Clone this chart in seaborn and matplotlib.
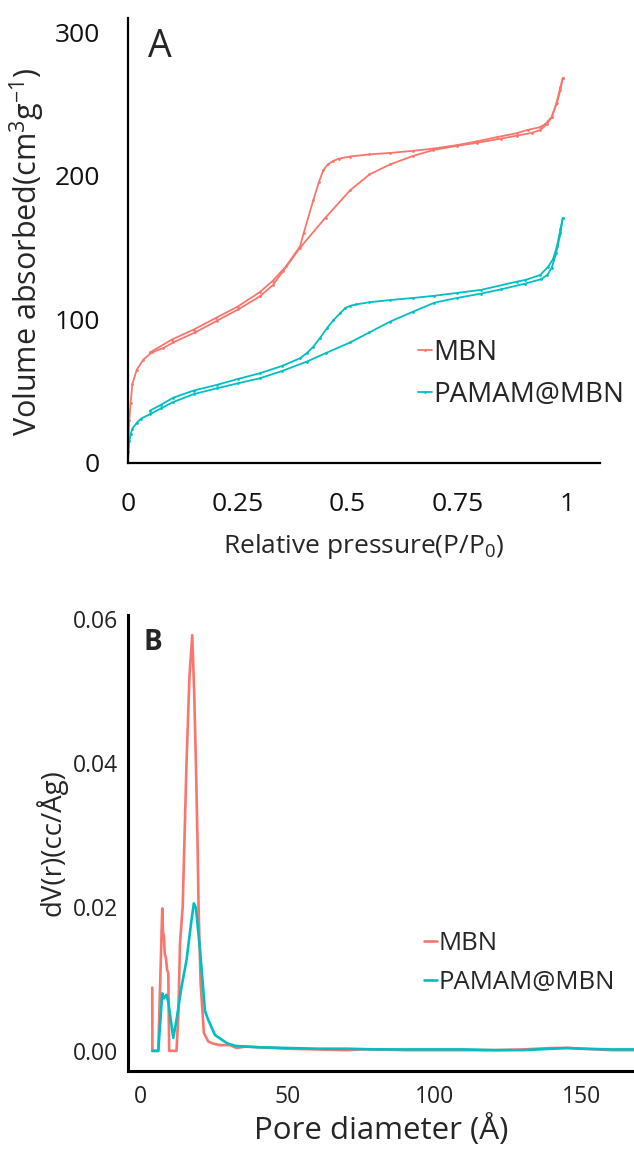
import pandas as pd
import matplotlib
matplotlib.use('Agg')
import matplotlib.pyplot as plt
import seaborn as sns

# colours (ggplot default pair)
red = '#F8766D'
cyan = '#00BFC4'

# A: N2 isotherms, adsorption / desorption branches
mbn_ads_p = [0.0, 0.001, 0.003, 0.006, 0.01, 0.02, 0.035, 0.054, 0.08, 0.103, 0.153, 0.202, 0.251,
             0.30, 0.33, 0.354, 0.392, 0.45, 0.506, 0.55, 0.597, 0.65, 0.695, 0.75, 0.794, 0.85,
             0.885, 0.92, 0.939, 0.954, 0.965, 0.977, 0.985, 0.99]
mbn_ads_v = [0, 15, 30, 42, 55, 65, 72, 77, 80, 84, 91, 99, 107,
             116, 124, 134, 150, 171, 190, 201, 208, 214, 218, 221, 223, 226,
             228, 230, 232, 236, 241, 251, 260, 268]
mbn_des_p = [0.99, 0.985, 0.975, 0.965, 0.95, 0.939, 0.91, 0.885, 0.84, 0.794, 0.75, 0.695, 0.65,
             0.597, 0.55, 0.506, 0.48, 0.468, 0.455, 0.445, 0.435, 0.422, 0.40, 0.392, 0.36, 0.33,
             0.30, 0.25, 0.20, 0.15, 0.10, 0.05]
mbn_des_v = [268, 262, 250, 241, 236, 234, 232, 229.7, 227, 224, 221.5, 219, 217.5,
             216, 215, 213.5, 212, 210.5, 208, 204, 196, 183, 160, 151, 137, 127,
             119, 109, 101, 93, 86, 77]
pam_ads_p = [0.0, 0.001, 0.003, 0.006, 0.01, 0.02, 0.03, 0.05, 0.075, 0.103, 0.15, 0.202, 0.25,
             0.30, 0.35, 0.407, 0.45, 0.506, 0.55, 0.597, 0.65, 0.698, 0.75, 0.804, 0.85, 0.905,
             0.94, 0.955, 0.965, 0.975, 0.985, 0.99]
pam_ads_v = [0, 8, 15, 20, 24, 28, 31, 34, 38, 42.5, 48, 52, 55.5,
             59, 64, 70.6, 76.5, 84, 91, 98.5, 105.5, 111.7, 115, 118, 121, 125,
             128, 131, 136, 146, 160, 170.5]
pam_des_p = [0.99, 0.985, 0.977, 0.968, 0.957, 0.939, 0.905, 0.885, 0.804, 0.75, 0.698, 0.65,
             0.597, 0.55, 0.52, 0.506, 0.495, 0.483, 0.468, 0.453, 0.437, 0.422, 0.407, 0.392,
             0.35, 0.30, 0.25, 0.202, 0.15, 0.103, 0.075, 0.05]
pam_des_v = [170.5, 163, 151, 142, 136.8, 131, 127.5, 126.3, 120.6, 118.5, 116.5, 115,
             113.5, 112, 110.5, 109.5, 108, 104.3, 99.5, 93.8, 87, 81, 76.5, 73,
             67.5, 62.5, 58.5, 54.4, 50.5, 45.5, 40.5, 36.5]

# B: pore size distribution
mbn_d = [3.85, 3.9, 5.9, 7.25, 7.5, 7.8, 8.1, 8.5, 8.9, 9.3, 9.6, 12.1, 12.7, 13.3, 14.2, 15.5,
         16.5, 17.45, 18.1, 18.7, 19.3, 19.6, 20.3, 21.4, 22.9, 24.6, 26.9, 30.3, 32.5, 35.6,
         40, 50, 60, 70, 75, 80, 90, 100, 110, 120, 130, 135, 140, 145, 150, 155, 160, 170]
mbn_dv = [0.0088, 0.0, 0.0, 0.0198, 0.0165, 0.0159, 0.0135, 0.0129, 0.0113, 0.0108, 0.0, 0.0,
          0.0048, 0.015, 0.02, 0.04, 0.052, 0.0578, 0.05, 0.04, 0.028, 0.02, 0.0094, 0.0025,
          0.0013, 0.001, 0.0008, 0.0008, 0.0004, 0.0006, 0.0005, 0.0003, 0.0002, 0.0001,
          0.0002, 0.0002, 0.0001, 0.0001, 0.0001, 0.0001, 0.0002, 0.0003, 0.0004, 0.0004,
          0.0003, 0.0002, 0.0001, 0.0001]
pam_d = [3.85, 5.9, 7.25, 7.8, 8.7, 9.3, 11.0, 12.1, 13.8, 15.5, 17.2, 18.0, 18.7, 20.1, 21.8,
         22.9, 25.2, 29.1, 32.0, 35.6, 40, 50, 60, 70, 80, 90, 100, 110, 120, 130, 140, 145,
         150, 160, 170]
pam_dv = [0.0, 0.0, 0.008, 0.0073, 0.0078, 0.0068, 0.0018, 0.0043, 0.0089, 0.0126, 0.0182,
          0.0205, 0.0199, 0.014, 0.0055, 0.0043, 0.0022, 0.0011, 0.0007, 0.0006, 0.0005,
          0.0004, 0.0003, 0.0003, 0.0002, 0.0002, 0.0002, 0.0002, 0.0001, 0.0001, 0.0003,
          0.0004, 0.0003, 0.0002, 0.0002]

sns.set_style('white')
plt.rcParams['font.family'] = ['Open Sans', 'DejaVu Sans']
plt.rcParams['mathtext.fontset'] = 'custom'
plt.rcParams['mathtext.rm'] = 'Open Sans'
plt.rcParams['mathtext.it'] = 'Open Sans:italic'

fig = plt.figure(figsize=(6.34, 11.49), dpi=100)
axA = fig.add_axes([128/634, 1 - 463/1149, (600 - 128)/634, (463 - 18)/1149])
axB = fig.add_axes([128/634, 1 - 1071/1149, (634 - 128)/634, (1071 - 615)/1149])

# ---- panel A
branches = [
    (mbn_ads_p, mbn_ads_v, red, 'MBN'),
    (mbn_des_p, mbn_des_v, red, None),
    (pam_ads_p, pam_ads_v, cyan, 'PAMAM@MBN'),
    (pam_des_p, pam_des_v, cyan, None),
]
for p, v, c, lab in branches:
    df = pd.DataFrame({'p': p, 'v': v})
    sns.lineplot(data=df, x='p', y='v', ax=axA, color=c, sort=False, estimator=None,
                 lw=1.3, marker='o', markersize=2.0, markeredgewidth=0, label=lab, legend=False)

axA.set_xlim(0, 1.075)
axA.set_ylim(0, 310)
axA.set_xticks([0, 0.25, 0.5, 0.75, 1])
axA.set_xticklabels(['0', '0.25', '0.5', '0.75', '1'])
axA.set_yticks([0, 100, 200, 300])
axA.tick_params(axis='both', length=0, labelsize=19, colors='#111111')
axA.tick_params(axis='x', pad=21)
axA.tick_params(axis='y', pad=20)
for s in ['top', 'right']:
    axA.spines[s].set_visible(False)
for s in ['left', 'bottom']:
    axA.spines[s].set_color('black')
    axA.spines[s].set_linewidth(1.6)
axA.set_xlabel('Relative pressure(P/P$_0$)', fontsize=19, labelpad=11)
axA.set_ylabel('Volume absorbed(cm$^3$g$^{-1}$)', fontsize=22)
axA.yaxis.set_label_coords(-0.172, 0.475)
axA.text(0.042, 0.935, 'A', transform=axA.transAxes, fontsize=27, va='center', ha='left')
axA.legend(loc='upper left', bbox_to_anchor=(0.585, 0.31), frameon=False, fontsize=20,
           handlelength=0.5, handletextpad=0.05, labelspacing=0.5, borderpad=0)

# ---- panel B
for d, dv, c, lab in [(mbn_d, mbn_dv, red, 'MBN'), (pam_d, pam_dv, cyan, 'PAMAM@MBN')]:
    df = pd.DataFrame({'d': d, 'dv': dv})
    sns.lineplot(data=df, x='d', y='dv', ax=axB, color=c, sort=False, estimator=None,
                 lw=1.9, label=lab, legend=False)

axB.set_xlim(-4.4, 167.7)
axB.set_ylim(-0.0028, 0.0606)
axB.set_xticks([0, 50, 100, 150])
axB.set_yticks([0.0, 0.02, 0.04, 0.06])
axB.set_yticklabels(['0.00', '0.02', '0.04', '0.06'])
axB.tick_params(axis='both', length=4, width=1, labelsize=16.5, colors='#222222',
                direction='out', pad=3)
axB.tick_params(axis='x', pad=6)
axB.tick_params(axis='both', color='#333333')
for s in ['top', 'right']:
    axB.spines[s].set_visible(False)
for s in ['left', 'bottom']:
    axB.spines[s].set_color('black')
    axB.spines[s].set_linewidth(2.2)
axB.set_xlabel('Pore diameter (Å)', fontsize=22.5, labelpad=4)
axB.set_ylabel('dV(r)(cc/Åg)', fontsize=20, labelpad=4)
axB.text(0.03, 0.94, 'B', transform=axB.transAxes, fontsize=20, fontweight='bold',
         va='center', ha='left')
axB.legend(loc='upper left', bbox_to_anchor=(0.56, 0.335), frameon=False, fontsize=18.5,
           handlelength=0.5, handletextpad=0.05, labelspacing=0.55, borderpad=0)

fig.savefig('out.png', dpi=100)
